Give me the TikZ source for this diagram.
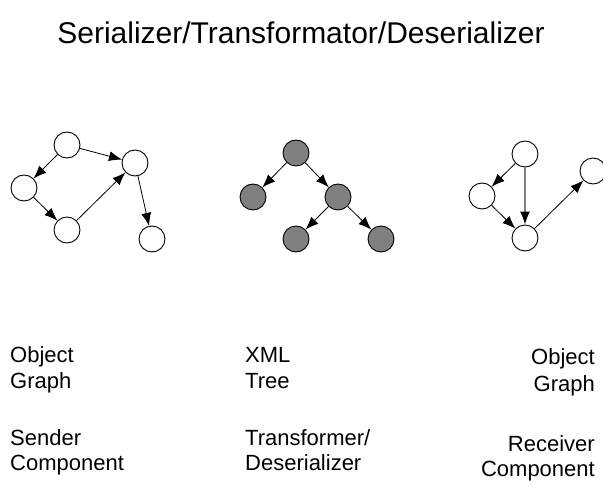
\documentclass[tikz,border=0pt]{standalone}
\usepackage{fontspec}
\setmainfont{Liberation Sans}
\usetikzlibrary{arrows.meta}

\tikzset{
  objnode/.style={circle,draw,line width=0.9pt,minimum size=26pt,inner sep=0pt,fill=white},
  xmlnode/.style={objnode,fill=gray},
  ref/.style={-{Latex[length=13pt,width=10pt]},line width=0.8pt},
  lbl/.style={font=\fontsize{22}{26}\selectfont,inner sep=0pt},
}

\begin{document}
\begin{tikzpicture}[x=1pt,y=-1pt]
    \useasboundingbox (0,0) rectangle (603,492);
    \node[font=\fontsize{30}{36}\selectfont,inner sep=0pt,anchor=base] (title) at (301,44) {Serializer/Transformator/Deserializer};
    % sender side object graph
    \node[objnode] (sa) at (67,145) {};
    \node[objnode] (sb) at (24,188) {};
    \node[objnode] (sc) at (67,230) {};
    \node[objnode] (sd) at (135,163) {};
    \node[objnode] (se) at (152,239) {};
    \draw[ref] (sa) -- (sb);
    \draw[ref] (sa) -- (sd);
    \draw[ref] (sb) -- (sc);
    \draw[ref] (sc) -- (sd);
    \draw[ref] (sd) -- (se);
    % xml tree
    \node[xmlnode] (xroot) at (296,153) {};
    \node[xmlnode] (xl) at (253,197) {};
    \node[xmlnode] (xr) at (338,197) {};
    \node[xmlnode] (xrl) at (296,239) {};
    \node[xmlnode] (xrr) at (381,239) {};
    \draw[ref] (xroot) -- (xl);
    \draw[ref] (xroot) -- (xr);
    \draw[ref] (xr) -- (xrl);
    \draw[ref] (xr) -- (xrr);
    % receiver side object graph
    \node[objnode] (ra) at (525,154) {};
    \node[objnode] (rb) at (482,196) {};
    \node[objnode] (rc) at (525,238) {};
    \node[objnode] (rd) at (593,171) {};
    \draw[ref] (ra) -- (rb);
    \draw[ref,gray,line width=1.5pt,-{Latex[length=13pt,width=10pt,color=black]}] (ra) -- (rc);
    \draw[ref] (rb) -- (rc);
    \draw[ref] (rc) -- (rd);
    % labels
    \node[lbl,anchor=base west] (sobj) at (10,362) {Object};
    \node[lbl,anchor=base west] (sgraph) at (10,388) {Graph};
    \node[lbl,anchor=base west] (ssender) at (10,445) {Sender};
    \node[lbl,anchor=base west] (scomp) at (10,470) {Component};
    \node[lbl,anchor=base west] (xxml) at (245,362) {XML};
    \node[lbl,anchor=base west] (xtree) at (245,388) {Tree};
    \node[lbl,anchor=base west] (xtrans) at (245,445) {Transformer/};
    \node[lbl,anchor=base west] (xdeser) at (245,470) {Deserializer};
    \node[lbl,anchor=base east] (robj) at (595,364) {Object};
    \node[lbl,anchor=base east] (rgraph) at (595,391) {Graph};
    \node[lbl,anchor=base east] (rrecv) at (595,451) {Receiver};
    \node[lbl,anchor=base east] (rcomp) at (595,476) {Component};
\end{tikzpicture}
\end{document}
